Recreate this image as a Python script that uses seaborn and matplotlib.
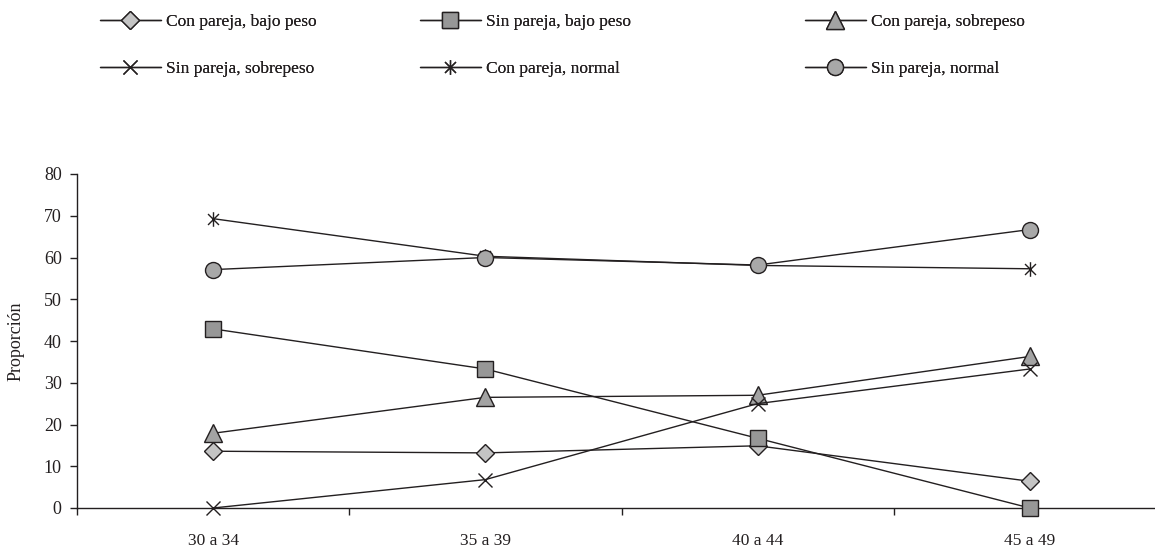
import matplotlib
matplotlib.use("Agg")
import matplotlib.pyplot as plt
import seaborn as sns
import pandas as pd
from matplotlib.path import Path
from matplotlib.lines import Line2D

# Age groups and proportions for each partner / weight category
grupos = ["30 a 34", "35 a 39", "40 a 44", "45 a 49"]

con_pareja_bajo_peso = [13.6, 13.2, 14.9, 6.4]
sin_pareja_bajo_peso = [42.9, 33.3, 16.7, 0.0]
con_pareja_sobrepeso = [17.9, 26.5, 27.0, 36.3]
sin_pareja_sobrepeso = [0.0, 6.8, 25.0, 33.3]
con_pareja_normal = [69.3, 60.3, 58.1, 57.3]
sin_pareja_normal = [57.1, 60.0, 58.2, 66.7]

series = [
    ("Con pareja, bajo peso", con_pareja_bajo_peso),
    ("Sin pareja, bajo peso", sin_pareja_bajo_peso),
    ("Con pareja, sobrepeso", con_pareja_sobrepeso),
    ("Sin pareja, sobrepeso", sin_pareja_sobrepeso),
    ("Con pareja, normal", con_pareja_normal),
    ("Sin pareja, normal", sin_pareja_normal),
]

INK = "#231f20"
asterisco = Path(
    [(0, -1), (0, 1), (-0.75, -0.75), (0.75, 0.75), (-0.75, 0.75), (0.75, -0.75)],
    [Path.MOVETO, Path.LINETO, Path.MOVETO, Path.LINETO, Path.MOVETO, Path.LINETO],
)
estilos = {
    "Con pareja, bajo peso": dict(marker="D", ms=9.5, mfc="#c4c4c4", mec=INK),
    "Sin pareja, bajo peso": dict(marker="s", ms=11.5, mfc="#979797", mec=INK),
    "Con pareja, sobrepeso": dict(marker="^", ms=12.5, mfc="#a3a3a3", mec=INK),
    "Sin pareja, sobrepeso": dict(marker="x", ms=10, mfc="none", mec=INK),
    "Con pareja, normal": dict(marker=asterisco, ms=10.5, mfc="none", mec=INK),
    "Sin pareja, normal": dict(marker="o", ms=11.5, mfc="#a8a8a8", mec=INK),
}

sns.set_style("white")
plt.rcParams["font.family"] = ["Liberation Serif", "DejaVu Serif"]
plt.rcParams["text.color"] = INK
plt.rcParams["axes.labelcolor"] = INK
plt.rcParams["xtick.color"] = INK
plt.rcParams["ytick.color"] = INK

fig = plt.figure(figsize=(11.55, 5.52), dpi=100)
ax = fig.add_axes([77 / 1155, 44 / 552, 1089 / 1155, 334 / 552])

handles = {}
for nombre, valores in series:
    df = pd.DataFrame({"grupo": grupos, "valor": valores})
    st = estilos[nombre]
    sns.lineplot(
        data=df, x="grupo", y="valor", ax=ax, sort=False,
        color=INK, linewidth=1.0,
        marker=st["marker"], markersize=st["ms"],
        markerfacecolor=st["mfc"], markeredgecolor=st["mec"],
        markeredgewidth=1.0, clip_on=False, zorder=3,
    )
    handles[nombre] = Line2D(
        [], [], color=INK, linewidth=1.0, marker=st["marker"],
        markersize=st["ms"], markerfacecolor=st["mfc"],
        markeredgecolor=st["mec"], markeredgewidth=1.0,
    )

ax.set_xlim(-0.5, 3.5)
ax.set_ylim(0, 80)
ax.set_yticks(range(0, 81, 10))
ax.set_xticks([-0.5, 0.5, 1.5, 2.5, 3.5], labels=["", "", "", "", ""])
ax.set_xticks(range(len(grupos)), labels=grupos, minor=True)
ax.tick_params(axis="x", which="major", bottom=True, direction="out", length=5, width=1.0)
ax.tick_params(axis="x", which="minor", bottom=True, length=0, pad=18, labelsize=12.5)
ax.tick_params(axis="y", left=True, direction="out", length=5, width=1.0, pad=6, labelsize=13)
ax.set_xlabel("")
ax.set_ylabel("Proporción", fontsize=13, labelpad=14)

for side in ("top", "right"):
    ax.spines[side].set_visible(False)
for side in ("left", "bottom"):
    ax.spines[side].set_color(INK)
    ax.spines[side].set_linewidth(1.0)

# Legend laid out in three columns of two entries each
columnas = [
    (100, ["Con pareja, bajo peso", "Sin pareja, sobrepeso"]),
    (420, ["Sin pareja, bajo peso", "Con pareja, normal"]),
    (805, ["Con pareja, sobrepeso", "Sin pareja, normal"]),
]
for x0, nombres in columnas:
    leg = fig.legend(
        [handles[n] for n in nombres], nombres,
        loc="upper left", bbox_to_anchor=(x0 / 1155, 1 - 14 / 552),
        frameon=False, fontsize=12.5, handlelength=3.5, handletextpad=0.3,
        labelspacing=1.75, borderpad=0, borderaxespad=0,
    )
    fig.add_artist(leg)

fig.savefig("out.png", dpi=100)
